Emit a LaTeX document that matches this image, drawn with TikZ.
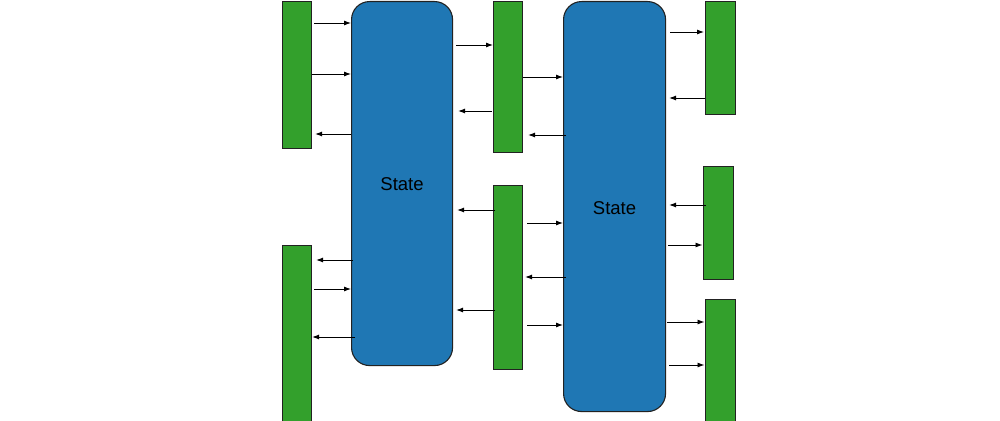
\documentclass[tikz,border=0pt]{standalone}
\usepackage{fontspec}
\setmainfont{Liberation Sans}
\usetikzlibrary{arrows.meta}
\definecolor{stblue}{RGB}{31,119,180}
\definecolor{bargreen}{RGB}{51,160,44}
\definecolor{edge}{RGB}{34,34,34}
\tikzset{
  gbox/.style={draw=edge, line width=1.1pt, fill=bargreen, inner sep=0pt, anchor=north west},
  sbox/.style={draw=edge, line width=1.1pt, fill=stblue, inner sep=0pt, anchor=north west, rounded corners=18pt},
  lbl/.style={font=\fontsize{18.5}{22}\selectfont, text=black},
  arw/.style={draw=black, line width=0.9pt, -{Latex[length=7pt,width=5pt]}}
}
\newcommand\conn[5]{\draw[arw, shorten <=#4pt, shorten >=#5pt] (#1 |- 0,#3) -- (#2 |- 0,#3);}
\begin{document}
\begin{tikzpicture}[x=1pt,y=-1pt]
\useasboundingbox (0,0) rectangle (1000,420);
\clip (0,0) rectangle (1000,420);
% green bars
\node[gbox, minimum width=29pt, minimum height=147pt] (G1) at (282,1) {};
\node[gbox, minimum width=29pt, minimum height=190pt] (G2) at (282,245) {};
\node[gbox, minimum width=29pt, minimum height=151pt] (G3) at (493,1) {};
\node[gbox, minimum width=29pt, minimum height=184pt] (G4) at (493,185) {};
\node[gbox, minimum width=30pt, minimum height=113pt] (G5) at (705,1) {};
\node[gbox, minimum width=30pt, minimum height=113pt] (G6) at (702.5,166) {};
\node[gbox, minimum width=30pt, minimum height=130pt] (G7) at (704.5,299) {};
% state boxes
\node[sbox, minimum width=101pt, minimum height=364pt] (S1) at (351,1) {};
\node[sbox, minimum width=102pt, minimum height=410pt] (S2) at (563,1) {};
\node[lbl] (T1) at ([yshift=-1pt]S1.center) {State};
\node[lbl] (T2) at ([yshift=-2pt]S2.center) {State};
% connectors: from, to, y, start gap, end gap
\conn{G1.east}{S1.west}{23}{2}{0}
\conn{G1.east}{S1.west}{74}{0}{0}
\conn{S1.west}{G1.east}{134}{0}{3}
\conn{S1.east}{G3.west}{45}{3}{0}
\conn{G3.west}{S1.east}{111}{1}{5}
\conn{G3.east}{S2.west}{77}{0}{0}
\conn{S2.west}{G3.east}{135}{-3}{5}
\conn{S2.east}{G5.west}{32}{4}{1}
\conn{G5.west}{S2.east}{98}{0}{3}
\conn{S1.west}{G2.east}{260}{-2}{4}
\conn{G2.east}{S1.west}{289}{2}{0}
\conn{S1.west}{G2.east}{337}{-4}{0}
\conn{G4.west}{S1.east}{210}{-2}{4}
\conn{G4.east}{S2.west}{223}{4}{0}
\conn{S2.west}{G4.east}{277}{-3}{2}
\conn{G4.west}{S1.east}{310}{-2}{3}
\conn{G4.east}{S2.west}{325}{4}{0}
\conn{G6.west}{S2.east}{205}{-3}{3}
\conn{S2.east}{G6.west}{245}{2}{0}
\conn{S2.east}{G7.west}{322}{1}{0}
\conn{S2.east}{G7.west}{365}{3}{0}
\end{tikzpicture}
\end{document}
